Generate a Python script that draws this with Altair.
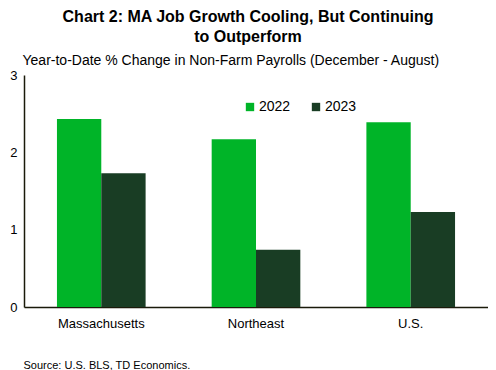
import altair as alt
import pandas as pd

regions = ["Massachusetts", "Northeast", "U.S."]
years = ["2022", "2023"]
values_2022 = [2.43, 2.17, 2.39]
values_2023 = [1.73, 0.74, 1.23]

rows = []
for i, r in enumerate(regions):
    rows.append({"region": r, "year": "2022", "value": values_2022[i]})
    rows.append({"region": r, "year": "2023", "value": values_2023[i]})
df = pd.DataFrame(rows)

FONT = "Liberation Sans"
AXIS_COLOR = "#1a1a0a"

chart = alt.Chart(df).mark_bar().encode(
    x=alt.X("region:N", sort=regions,
            scale=alt.Scale(paddingInner=0.427, paddingOuter=0.213),
            axis=alt.Axis(title="Source: U.S. BLS, TD Economics.", labelAngle=0,
                          ticks=False, labelPadding=10, labelFontSize=13,
                          labelColor="#000000", domainColor=AXIS_COLOR, domainWidth=1.5,
                          titleX=-1, titleY=63, titleAlign="left", titleBaseline="bottom",
                          titleFontSize=11, titleFontWeight="normal", titleColor="#000000")),
    xOffset=alt.XOffset("year:N", sort=years, scale=alt.Scale(paddingInner=0, paddingOuter=0)),
    y=alt.Y("value:Q", scale=alt.Scale(domain=[0, 3]),
            axis=alt.Axis(title="Year-to-Date % Change in Non-Farm Payrolls (December - August)",
                          values=[0, 1, 2, 3], ticks=False, grid=False, labelPadding=7,
                          labelFontSize=13, labelColor="#000000",
                          domainColor=AXIS_COLOR, domainWidth=1.5,
                          titleAngle=0, titleX=-2, titleY=-8, titleAlign="left",
                          titleBaseline="bottom", titleFontSize=14,
                          titleFontWeight="normal", titleColor="#000000")),
    color=alt.Color("year:N", sort=years,
                    scale=alt.Scale(domain=years, range=["#00b428", "#193d24"]),
                    legend=alt.Legend(title=None, orient="none", legendX=219, legendY=25,
                                      direction="horizontal", symbolType="square",
                                      symbolSize=70, symbolStrokeWidth=0,
                                      labelFontSize=14, labelColor="#000000",
                                      columnPadding=18, labelOffset=2)),
).properties(
    width=464,
    height=232,
    title=alt.TitleParams(
        text=["Chart 2: MA Job Growth Cooling, But Continuing", "to Outperform"],
        fontSize=16, fontWeight="bold", font=FONT, anchor="middle",
        lineHeight=20, dx=-8, color="#000000", offset=8,
    ),
    padding={"left": 16, "top": 67, "right": 0, "bottom": 63},
    autosize=alt.AutoSizeParams(type="none"),
).configure(font=FONT).configure_view(stroke=None)

chart.save("out.html", embed_options={"renderer": "svg", "actions": False})
